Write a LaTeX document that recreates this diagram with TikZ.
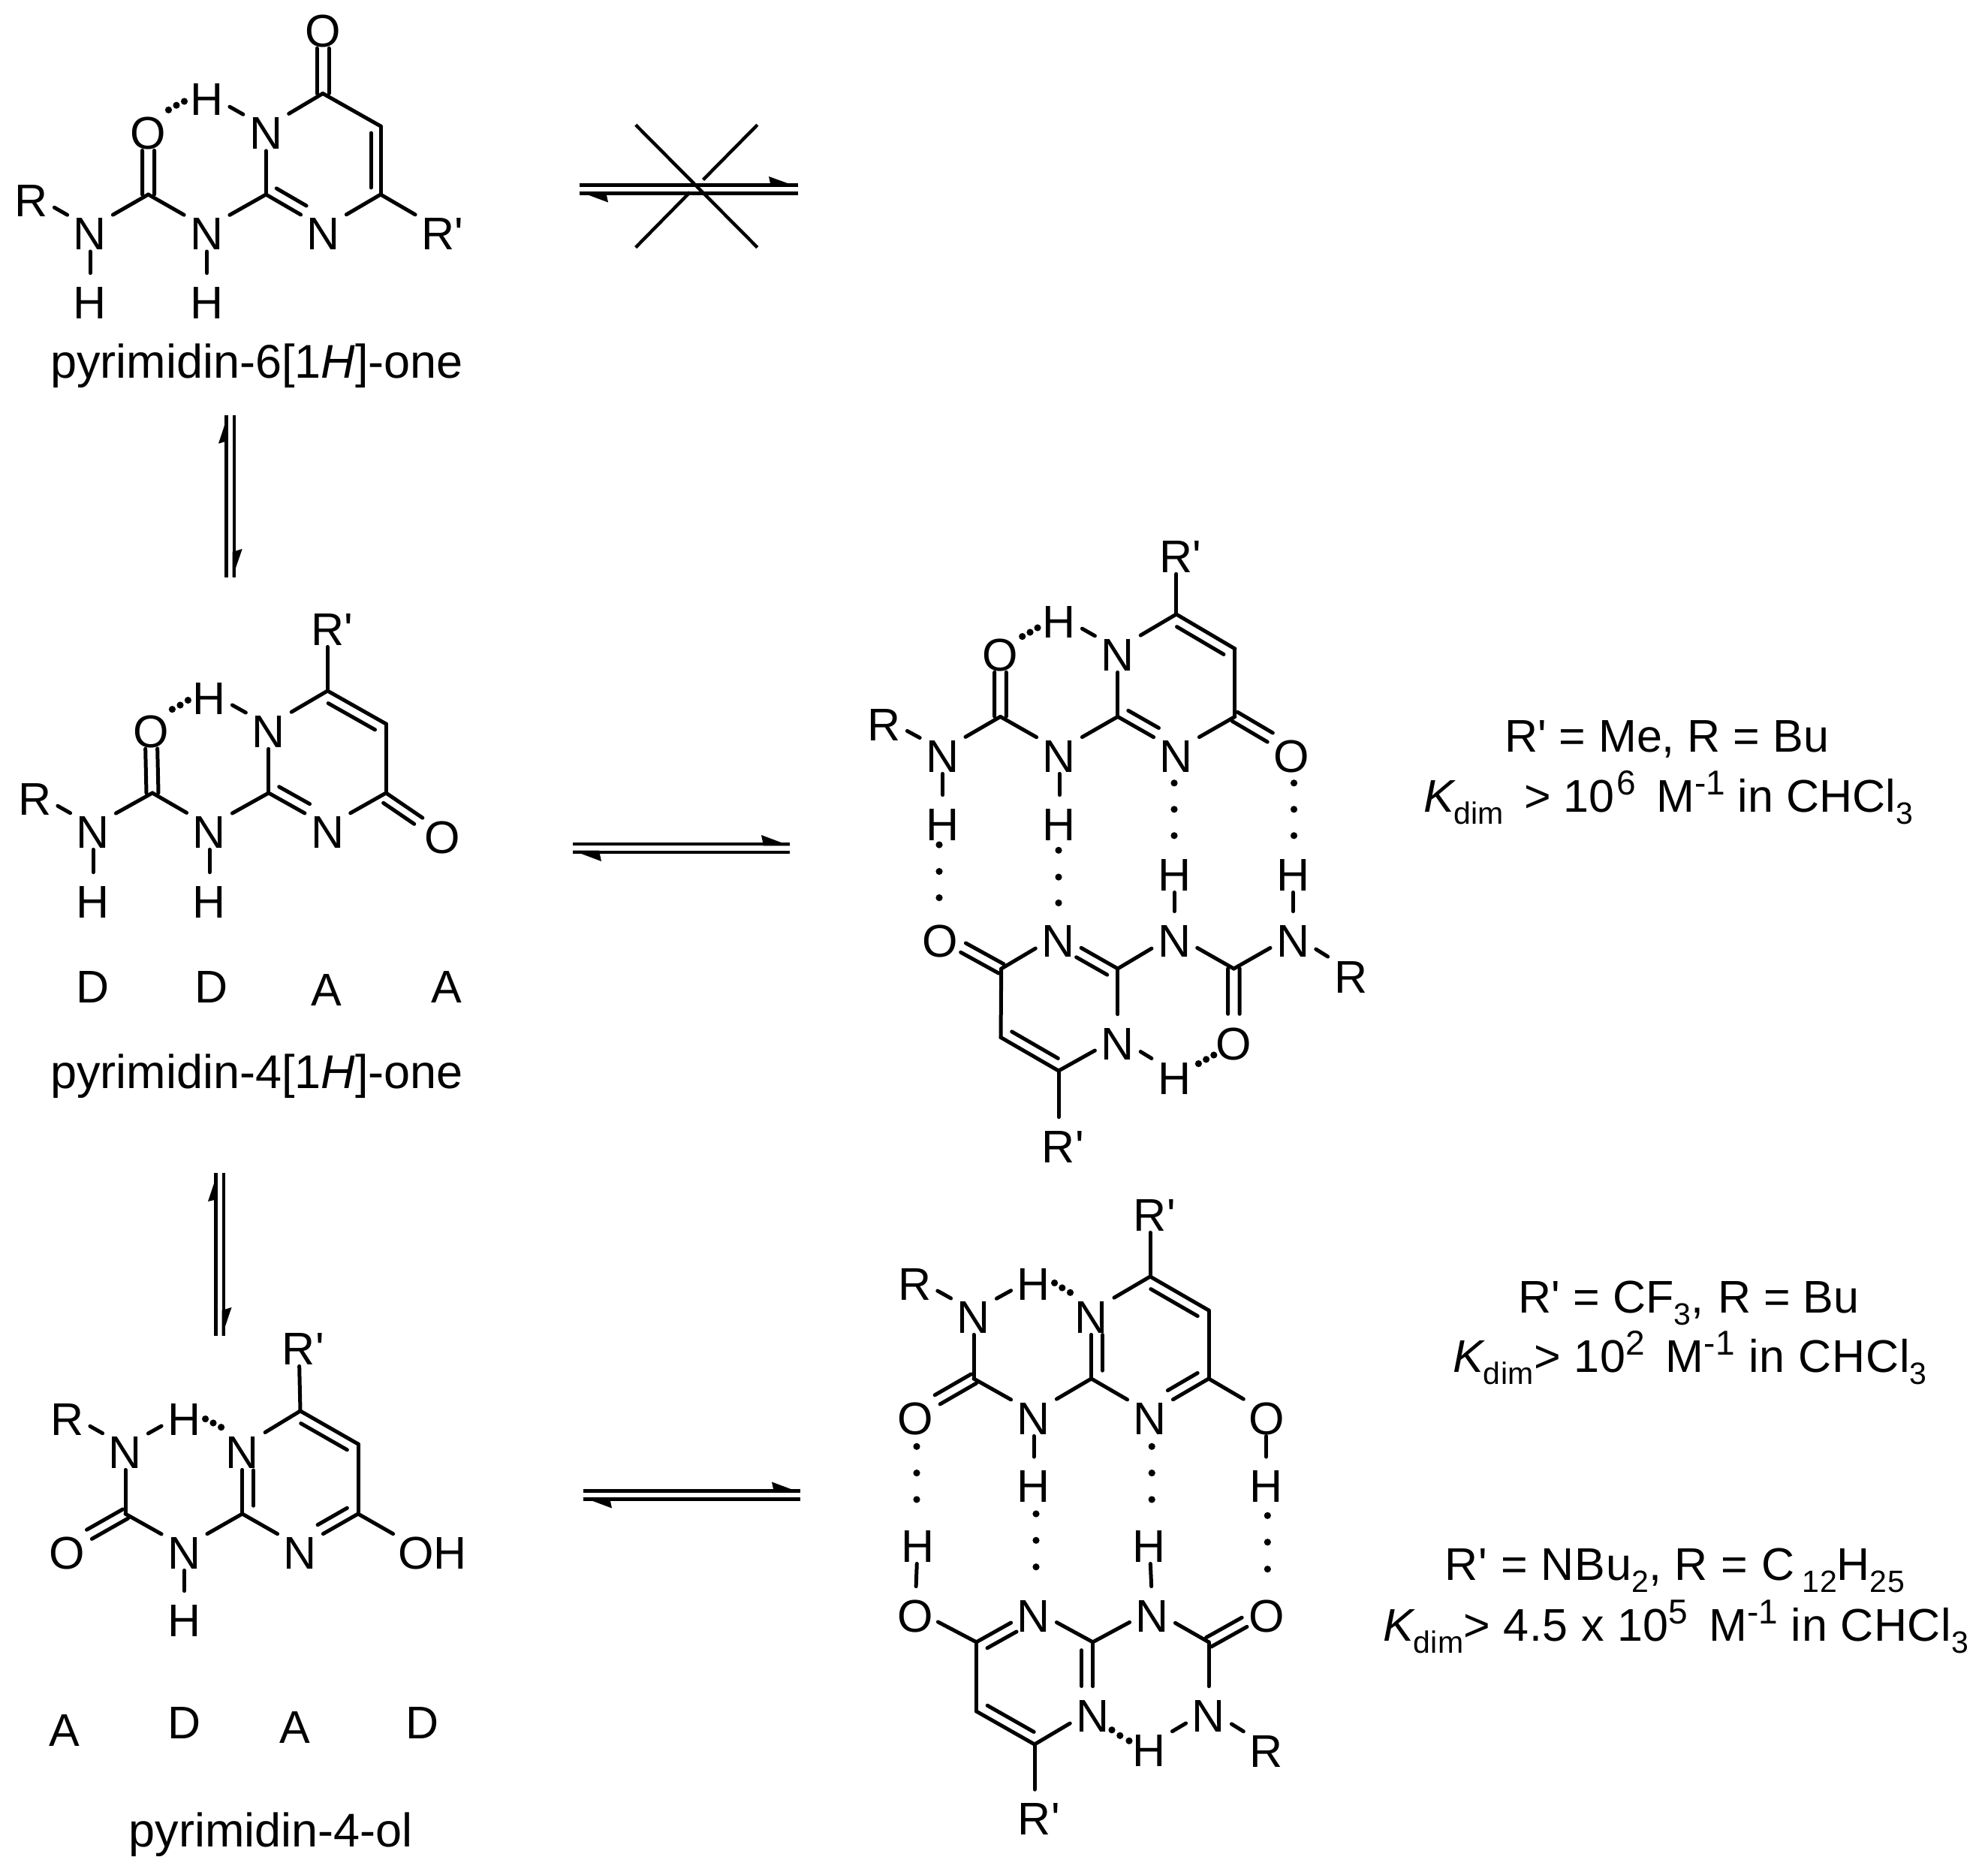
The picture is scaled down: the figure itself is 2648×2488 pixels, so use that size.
\documentclass[tikz,border=0pt]{standalone}
\usepackage{fontspec}
\setmainfont[Ligatures=TeXOff]{Liberation Sans}
\usetikzlibrary{calc}
\newcommand\atomfont{\fontsize{30.5}{30}\selectfont}
\newcommand\namefont{\fontsize{31.5}{32}\selectfont}
\newcommand\infofont{\fontsize{30.5}{32}\selectfont}
\newcommand\subfont{\fontsize{20.5}{20}\selectfont}
\newcommand\supfont{\fontsize{23}{24}\selectfont}
\newcommand\Rp{R\rlap{'}}
\newcommand\OHgrp{O\rlap{H}}
\newcommand\mysub[1]{\raisebox{-8pt}{\subfont #1}}
\newcommand\mysup[1]{\raisebox{11.5pt}{\supfont #1}}
\newcommand\Kdim{{\itshape K}\mysub{dim}}
\newcommand\pb[5]{\draw[bond] ($(#1)!#3!(#2)!#5!90:(#2)$) -- ($(#1)!#4!(#2)!#5!90:(#2)$);}
\newcommand\dotsat[1]{\foreach \p in {#1} \fill \p circle[radius=2.3pt];}
\newcommand\bonds[1]{\foreach \a/\b in {#1} \draw[bond] (\a) -- (\b);}
\newcommand\barb[3]{\fill #1 -- #2 -- #3 -- cycle;}
\tikzset{
  atom/.style={rectangle,inner sep=0pt,minimum width=30pt,minimum height=31pt,text height=29pt,text depth=0pt,font=\atomfont},
  molname/.style={anchor=base,inner sep=0pt,font=\namefont},
  info/.style={anchor=base,inner sep=0pt,font=\infofont},
  bond/.style={line width=2.5pt,line cap=round,line join=round},
  rxn/.style={line width=2.4pt},
  crossline/.style={line width=2.2pt}
}
\begin{document}
\begin{tikzpicture}[x=0.5pt,y=-0.5pt]
\useasboundingbox (0,0) rectangle (2648,2488);

% ---- molecule 1
\foreach \n/\x/\y in {c2/354.3/259,c6/430/124.5,c5/507/168,c4/507/259,cu/197.5/259}
  \coordinate (a\n) at (\x,\y);
\node[atom] (an1) at (354.3,169.5) {N};
\node[atom] (an3) at (431,303.5) {N};
\node[atom] (arp) at (583.5,303.5) {\Rp};
\node[atom] (aot) at (430,34) {O};
\node[atom] (anh) at (275.5,303.5) {N};
\node[atom] (ao) at (197.5,169.5) {O};
\node[atom] (anr) at (120,303.5) {N};
\node[atom] (ar) at (42,259) {R};
\node[atom] (ah1) at (120,395) {H};
\node[atom] (ah2) at (275.5,395) {H};
\node[atom] (aht) at (275.5,125) {H};
\bonds{ac2/an1,an1/ac6,ac6/ac5,ac5/ac4,ac4/an3,an3/ac2,ac4/arp,ac2/anh,anh/acu,acu/anr,anr/ar,anr/ah1,anh/ah2,an1/aht}
\pb{ac6}{aot}{0}{.665}{4pt}
\pb{ac6}{aot}{0}{.665}{-4pt}
\pb{acu}{ao}{0}{.655}{4pt}
\pb{acu}{ao}{0}{.655}{-4pt}
\pb{ac4}{ac5}{.1}{.9}{6.5pt}
\pb{ac2}{an3}{.09}{.61}{7pt}
\dotsat{(224.5,146.4),(235,140.2),(245.5,135)}
\node[molname] (aname) at (342,503) {pyrimidin-6[1\textit{H}]-one};

% ---- no-go arrow
\coordinate (xa) at (771.6,246.7); \coordinate (xb) at (1062.8,246.7);
\coordinate (xc) at (1062.8,257.5); \coordinate (xd) at (771.6,257.5);
\draw[rxn] (xa) -- (xb); \draw[rxn] (xc) -- (xd);
\barb{(1062.8,249)}{(1024,235)}{(1027,249)}
\barb{(771.6,255.2)}{(810,269.5)}{(807,255.2)}
\coordinate (ya) at (846.7,166.3); \coordinate (yb) at (1008.8,329.5);
\coordinate (yc) at (1008.8,166.3); \coordinate (yd) at (936.5,239.5);
\coordinate (ye) at (919,256); \coordinate (yf) at (846.7,329.5);
\draw[crossline] (ya) -- (yb); \draw[crossline] (yc) -- (yd); \draw[crossline] (ye) -- (yf);

% ---- vertical arrow 1
\coordinate (v1a) at (301.2,552.5); \coordinate (v1b) at (301.2,769);
\coordinate (v1c) at (312,552.5); \coordinate (v1d) at (312,769);
\draw[rxn] (v1a) -- (v1b); \draw[rxn] (v1c) -- (v1d);
\barb{(303.6,552.5)}{(291,590.7)}{(303.6,587)}
\barb{(309.6,769)}{(322.7,731)}{(309.6,735)}

% ---- molecule 2
\foreach \n/\x/\y in {c2/357.8/1056,c6/436.3/920,c5/514.2/964,c4/514.2/1056,cu/203/1056}
  \coordinate (b\n) at (\x,\y);
\node[atom] (bn1) at (357.8,966) {N};
\node[atom] (bn3) at (436.3,1100) {N};
\node[atom] (bot) at (589,1107) {O};
\node[atom] (brp) at (436.3,830) {\Rp};
\node[atom] (bnh) at (279,1100) {N};
\node[atom] (bo) at (201,966) {O};
\node[atom] (bnr) at (124,1100) {N};
\node[atom] (br) at (46.5,1056) {R};
\node[atom] (bh1) at (124,1193) {H};
\node[atom] (bh2) at (279,1193) {H};
\node[atom] (bht) at (279,922) {H};
\bonds{bc2/bn1,bn1/bc6,bc6/bc5,bc5/bc4,bc4/bn3,bn3/bc2,bc6/brp,bc2/bnh,bnh/bcu,bcu/bnr,bnr/br,bnr/bh1,bnh/bh2,bn1/bht}
\pb{bc4}{bot}{0}{.65}{0pt}
\pb{bc4}{bot}{.05}{.6}{-6.5pt}
\pb{bcu}{bo}{0}{.655}{4pt}
\pb{bcu}{bo}{0}{.655}{-4pt}
\pb{bc6}{bc5}{.1}{.9}{-7pt}
\pb{bc2}{bn3}{.09}{.61}{7pt}
\dotsat{(229.4,944.6),(240,939),(250.4,932.5)}
\node[atom] (bl1) at (124,1306) {D};
\node[atom] (bl2) at (282,1306) {D};
\node[atom] (bl3) at (435,1310) {A};
\node[atom] (bl4) at (595,1306) {A};
\node[molname] (bname) at (342,1449) {pyrimidin-4[1\textit{H}]-one};

% ---- horizontal arrow 2
\coordinate (h2a) at (763,1124); \coordinate (h2b) at (1052,1124);
\coordinate (h2c) at (1052,1135); \coordinate (h2d) at (763,1135);
\draw[rxn] (h2a) -- (h2b); \draw[rxn] (h2c) -- (h2d);
\barb{(1052,1126.3)}{(1014,1112)}{(1017,1126.3)}
\barb{(763,1132.7)}{(801,1147)}{(798,1132.7)}

% ---- vertical arrow 2
\coordinate (v2a) at (287.4,1562); \coordinate (v2b) at (287.4,1779);
\coordinate (v2c) at (298,1562); \coordinate (v2d) at (298,1779);
\draw[rxn] (v2a) -- (v2b); \draw[rxn] (v2c) -- (v2d);
\barb{(289.7,1562)}{(277,1600)}{(289.7,1597)}
\barb{(295.7,1779)}{(308.5,1741)}{(295.7,1745)}

% ---- molecule 3
\foreach \n/\x/\y in {c2/322.7/2016,c6/400/1879,c5/477/1923,c4/477/2016,cu/167/2016}
  \coordinate (c\n) at (\x,\y);
\node[atom] (cn1) at (322.7,1926) {N};
\node[atom] (cn3) at (400,2060) {N};
\node[atom] (coh) at (554,2060) {\OHgrp};
\node[atom] (crp) at (398,1788) {\Rp};
\node[atom] (cnh) at (245.5,2060) {N};
\node[atom] (co) at (89.5,2060) {O};
\node[atom] (cnr) at (167,1926) {N};
\node[atom] (cr) at (89.5,1882) {R};
\node[atom] (ch1) at (245.5,2150) {H};
\node[atom] (cht) at (245.5,1882) {H};
\bonds{cc2/cn1,cn1/cc6,cc6/cc5,cc5/cc4,cc4/cn3,cn3/cc2,cc4/coh,cc6/crp,cc2/cnh,cnh/ccu,ccu/cnr,cnr/cr,cnr/cht,cnh/ch1}
\pb{ccu}{co}{0}{.62}{3.5pt}
\pb{ccu}{co}{0}{.62}{-3.5pt}
\pb{cc2}{cn1}{.12}{.645}{-7.5pt}
\pb{cc6}{cc5}{.1}{.9}{-7pt}
\pb{cc4}{cn3}{.1}{.61}{-7pt}
\dotsat{(273.6,1889.6),(284,1895),(294.6,1900.7)}
\node[atom] (cl1) at (85.6,2296) {A};
\node[atom] (cl2) at (245.5,2286.5) {D};
\node[atom] (cl3) at (392.8,2292) {A};
\node[atom] (cl4) at (563,2286.5) {D};
\node[molname] (cname) at (361,2459) {pyrimidin-4-ol};

% ---- horizontal arrow 3
\coordinate (h3a) at (777,1985.4); \coordinate (h3b) at (1066,1985.4);
\coordinate (h3c) at (1066,1996.5); \coordinate (h3d) at (777,1996.5);
\draw[rxn] (h3a) -- (h3b); \draw[rxn] (h3c) -- (h3d);
\barb{(1066,1987.7)}{(1028,1973.5)}{(1031,1987.7)}
\barb{(777,1994.2)}{(815,2008.5)}{(812,1994.2)}

% ---- dimer 1 upper
\foreach \n/\x/\y in {c2/1488.8/954.4,c6/1566.8/818,c5/1644.9/864,c4/1644.9/954.4,cu/1332.5/954.4}
  \coordinate (d\n) at (\x,\y);
\node[atom] (dn1) at (1488.8,864) {N};
\node[atom] (dn3) at (1567,999) {N};
\node[atom] (dot) at (1720.5,999) {O};
\node[atom] (drp) at (1566.8,733) {\Rp};
\node[atom] (dnh) at (1411,999) {N};
\node[atom] (do) at (1332.5,864) {O};
\node[atom] (dnr) at (1255.6,999) {N};
\node[atom] (dr) at (1178,957) {R};
\node[atom] (dh1) at (1255.6,1090) {H};
\node[atom] (dh2) at (1411,1090) {H};
\node[atom] (dht) at (1411,820) {H};
\bonds{dc2/dn1,dn1/dc6,dc6/dc5,dc5/dc4,dc4/dn3,dn3/dc2,dc6/drp,dc2/dnh,dnh/dcu,dcu/dnr,dnr/dr,dnr/dh1,dnh/dh2,dn1/dht}
\pb{dc4}{dot}{0}{.62}{3.5pt}
\pb{dc4}{dot}{0}{.62}{-3.5pt}
\pb{dcu}{do}{0}{.655}{3.9pt}
\pb{dcu}{do}{0}{.655}{-3.9pt}
\pb{dc6}{dc5}{.1}{.9}{-7pt}
\pb{dc2}{dn3}{.09}{.61}{7pt}
\dotsat{(1361.7,847.6),(1372,842),(1382,836)}
\dotsat{(1251,1125),(1251,1160.5),(1251,1195.5)}
\dotsat{(1410,1132.3),(1410,1168),(1410,1202.4)}
\dotsat{(1564,1042.8),(1564,1077.8),(1564,1112.8)}
\dotsat{(1723.5,1042.8),(1723.5,1077.8),(1723.5,1112.8)}

% ---- dimer 1 lower
\foreach \n/\x/\y in {c2/1488.8/1290,c6/1410/1426,c5/1333/1381.5,c4/1333.7/1290,cu/1643.4/1290}
  \coordinate (e\n) at (\x,\y);
\node[atom] (en1) at (1488.8,1382) {N};
\node[atom] (en3) at (1409.7,1245) {N};
\node[atom] (eot) at (1252,1245) {O};
\node[atom] (erp) at (1410,1519) {\Rp};
\node[atom] (enh) at (1564.3,1245) {N};
\node[atom] (eo) at (1643.4,1382) {O};
\node[atom] (enr) at (1722.4,1245) {N};
\node[atom] (er) at (1799,1293) {R};
\node[atom] (eh1) at (1564.3,1157) {H};
\node[atom] (eh2) at (1722.4,1157) {H};
\node[atom] (eht) at (1564.3,1428) {H};
\bonds{ec2/en1,en1/ec6,ec6/ec5,ec5/ec4,ec4/en3,en3/ec2,ec6/erp,ec2/enh,enh/ecu,ecu/enr,enr/er,enr/eh2,enh/eh1,en1/eht}
\pb{ec4}{eot}{0}{.62}{3.5pt}
\pb{ec4}{eot}{0}{.62}{-3.5pt}
\pb{ecu}{eo}{0}{.655}{3.9pt}
\pb{ecu}{eo}{0}{.655}{-3.9pt}
\pb{ec5}{ec6}{.1}{.9}{7pt}
\pb{ec2}{en3}{.09}{.61}{7pt}
\dotsat{(1596.4,1416.5),(1606.6,1410.8),(1616.8,1405)}

% ---- dimer 2 upper
\foreach \n/\x/\y in {c2/1453.6/1836,c6/1532/1700,c5/1610/1745,c4/1610/1836,cu/1297/1836}
  \coordinate (f\n) at (\x,\y);
\node[atom] (fn1) at (1453.6,1746) {N};
\node[atom] (fn3) at (1532,1881.5) {N};
\node[atom] (foh) at (1686.7,1881) {O};
\node[atom] (frp) at (1532,1610) {\Rp};
\node[atom] (fnh) at (1377,1881) {N};
\node[atom] (fo) at (1219,1881) {O};
\node[atom] (fnr) at (1297,1746) {N};
\node[atom] (fr) at (1218.4,1702) {R};
\node[atom] (fh1) at (1377,1971.5) {H};
\node[atom] (fh2) at (1686.7,1971.5) {H};
\node[atom] (fht) at (1377,1702) {H};
\bonds{fc2/fn1,fn1/fc6,fc6/fc5,fc5/fc4,fc4/fn3,fn3/fc2,fc4/foh,foh/fh2,fc6/frp,fc2/fnh,fnh/fcu,fcu/fnr,fnr/fr,fnr/fht,fnh/fh1}
\pb{fcu}{fo}{0}{.62}{3.5pt}
\pb{fcu}{fo}{0}{.62}{-3.5pt}
\pb{fc2}{fn1}{.12}{.65}{-7.5pt}
\pb{fc6}{fc5}{.1}{.9}{-7pt}
\pb{fc4}{fn3}{.1}{.61}{-7pt}
\dotsat{(1404.6,1708.5),(1414.8,1715),(1425.5,1721.3)}
\dotsat{(1221,1926.3),(1221,1961.6),(1221,1996.9)}
\dotsat{(1380,2016),(1380,2051.3),(1380,2086.7)}
\dotsat{(1534.2,1926.3),(1534.2,1961.6),(1534.2,1996.9)}
\dotsat{(1688.3,2018.3),(1688.3,2053.7),(1688.3,2089.6)}

% ---- dimer 2 lower
\foreach \n/\x/\y in {c2/1455.6/2186.8,c6/1378/2323,c5/1300.5/2279,c4/1300.5/2186.8,cu/1610/2186.8}
  \coordinate (g\n) at (\x,\y);
\node[atom] (gn1) at (1455.6,2277) {N};
\node[atom] (gn3) at (1377,2144) {N};
\node[atom] (goh) at (1219,2144) {O};
\node[atom] (ghh) at (1222.4,2051) {H};
\node[atom] (grp) at (1378,2414.5) {\Rp};
\node[atom] (gnh) at (1535,2144) {N};
\node[atom] (go) at (1686.7,2144) {O};
\node[atom] (gnr) at (1610,2277) {N};
\node[atom] (gr) at (1686.7,2324.6) {R};
\node[atom] (gh1) at (1531,2051) {H};
\node[atom] (ght) at (1531,2323.6) {H};
\bonds{gc2/gn1,gn1/gc6,gc6/gc5,gc5/gc4,gc4/gn3,gn3/gc2,gc4/goh,goh/ghh,gc6/grp,gc2/gnh,gnh/gcu,gcu/gnr,gnr/gr,gnr/ght,gnh/gh1}
\pb{gcu}{go}{0}{.62}{3.5pt}
\pb{gcu}{go}{0}{.62}{-3.5pt}
\pb{gc2}{gn1}{.12}{.65}{-7.5pt}
\pb{gc5}{gc6}{.1}{.9}{7pt}
\pb{gc4}{gn3}{.1}{.61}{-7pt}
\dotsat{(1481,2303.8),(1491.8,2311.3),(1504,2318.3)}

% ---- conditions
\node[info] (t1) at (2220,1001.6) {R' = Me, R = Bu};
\node[info] (t2) at (2222,1081) {\Kdim{}\, > 10\kern1.5pt\mysup{6}\, M\mysup{-1} in CHCl\mysub{3}};
\node[info] (t3) at (2249.6,1748.4) {R' = CF\mysub{3},\kern1pt{} R = Bu};
\node[info] (t4) at (2250.8,1827.6) {\addfontfeature{LetterSpace=1.5}\Kdim{}> 10\mysup{2}\, M\mysup{-1} in CHCl\mysub{3}};
\node[info] (t5) at (2231,2104) {\addfontfeature{LetterSpace=1.5}R' = NBu\mysub{2}, R = C\,\mysub{12}H\mysub{25}};
\node[info] (t6) at (2232,2185) {\addfontfeature{LetterSpace=1}\Kdim{}> 4.5 x 10\mysup{5}\, M\mysup{-1} in CHCl\mysub{3}};
\end{tikzpicture}
\end{document}
